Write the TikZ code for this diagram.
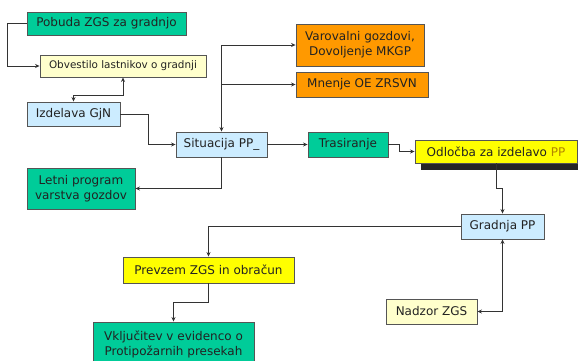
\documentclass[tikz,border=0pt]{standalone}
\usepackage{fontspec}
\setmainfont{DejaVu Sans}
\usetikzlibrary{arrows.meta}
\definecolor{cgreen}{HTML}{00CC99}
\definecolor{cyel}{HTML}{FFFFCC}
\definecolor{cblue}{HTML}{CCECFF}
\definecolor{corange}{HTML}{FF9900}
\definecolor{cyellow}{HTML}{FFFF00}
\definecolor{cborder}{HTML}{555555}
\definecolor{cline}{HTML}{333333}
\definecolor{ctext}{HTML}{222222}
\definecolor{cpp}{HTML}{B38600}
\begin{document}
\begin{tikzpicture}[x=1pt,y=-1pt,
  box/.style={draw=cborder,line width=0.9pt,inner sep=0pt,align=center,text=ctext,
     font=\fontsize{12}{15}\selectfont},
  conn/.style={draw=cline,line width=0.8pt},
  arr/.style={conn,-{Stealth[length=4.5pt,width=4pt]}},
  darr/.style={conn,{Stealth[length=4.5pt,width=4pt]}-{Stealth[length=4.5pt,width=4pt]}}]
\useasboundingbox[fill=white] (0,0) rectangle (578,360);
% nodes
\node[box,fill=cgreen,minimum width=159pt,minimum height=23pt] (pob) at (106.5,23.5) {Pobuda ZGS za gradnjo};
\node[box,fill=cyel,minimum width=166pt,minimum height=22pt,font=\fontsize{10.4}{13}\selectfont] (obv) at (123,66) {Obvestilo lastnikov o gradnji};
\node[box,fill=cblue,minimum width=93pt,minimum height=24pt] (izd) at (73.5,114) {Izdelava GjN};
\node[box,fill=cblue,minimum width=91pt,minimum height=25pt] (sit) at (221.5,144.5) {Situacija PP\_};
\node[box,fill=cgreen,minimum width=108pt,minimum height=41pt] (let) at (81,188.5) {Letni program\\varstva gozdov};
\node[box,fill=corange,minimum width=128pt,minimum height=42pt] (var) at (360,45) {Varovalni gozdovi,\\Dovoljenje MKGP};
\node[box,fill=corange,minimum width=132pt,minimum height=25pt] (mne) at (362,84.5) {Mnenje OE ZRSVN};
\node[box,fill=cgreen,minimum width=80pt,minimum height=25pt] (tra) at (348,144.5) {Trasiranje};
\fill[black!85] (421,147) rectangle (583,170);
\node[box,fill=cyellow,minimum width=162pt,minimum height=23pt] (odl) at (496,151.5) {Odločba za izdelavo \textcolor{cpp}{PP}};
\node[box,fill=cblue,minimum width=83pt,minimum height=25pt] (gra) at (502.5,226.5) {Gradnja PP};
\node[box,fill=cyellow,minimum width=171pt,minimum height=26pt] (pre) at (208.5,270) {Prevzem ZGS in obračun};
\node[box,fill=cyel,minimum width=91pt,minimum height=25pt] (nad) at (431.5,311.5) {Nadzor ZGS};
\node[box,fill=cgreen,minimum width=161pt,minimum height=44pt] (vkl) at (173.5,344) {Vključitev v evidenco o\\Protipožarnih presekah};
% connectors
\draw[arr] (pob.west) -- ++(-19,0) |- (obv.west);
\draw[darr] (obv.south) -- ++(0,18) -| (izd.north);
\draw[arr] (izd.east) -- ++(28,0) |- (sit.west);
\draw[darr] (sit.north) |- (var.west);
\draw[arr] (sit.north |- mne.west) -- (mne.west);
\draw[arr] (sit.east) -- (tra.west);
\draw[arr] (sit.south) |- (let.east);
\draw[arr] (tra.east) -- ++(11,0) |- (odl.west);
\draw[arr] (odl.south) -- ++(0,25) -| (gra.north);
\draw[arr] (gra.west) -| (pre.north);
\draw[arr] (pre.south) -- ++(0,19) -| (vkl.north);
\draw[darr] (nad.east) -| (gra.south);
\end{tikzpicture}
\end{document}
